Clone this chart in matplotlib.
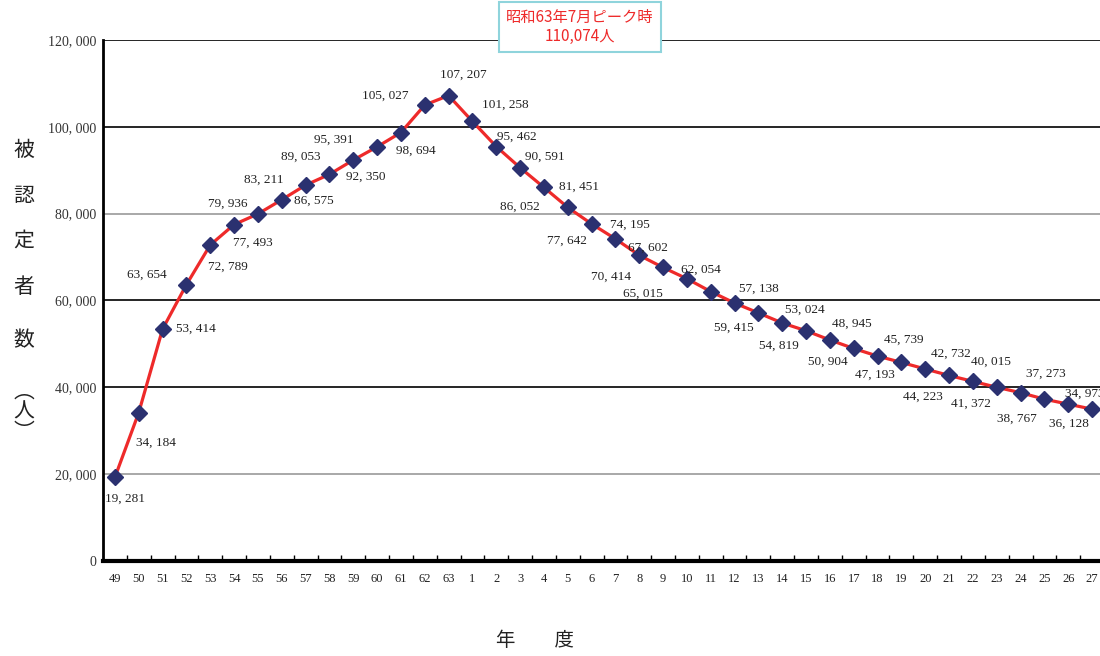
import numpy as np
import matplotlib.pyplot as plt

plt.rcParams['font.family'] = ['Liberation Serif', 'Noto Sans CJK JP', 'DejaVu Sans']

# 年度ラベル (昭和49年度 ～ 平成27年度)
years = [str(y) for y in range(49, 64)] + [str(y) for y in range(1, 28)]
counts = [19281, 34184, 53414, 63654, 72789, 77493, 79936, 83211, 86575, 89053,
          92350, 95391, 98694, 105027, 107207, 101258, 95462, 90591, 86052, 81451,
          77642, 74195, 70414, 67602, 65015, 62054, 59415, 57138, 54819, 53024,
          50904, 48945, 47193, 45739, 44223, 42732, 41372, 40015, 38767, 37273,
          36128, 34973]
peak_text = '昭和63年7月ピーク時\n110,074人'
y_ticks = [0, 20000, 40000, 60000, 80000, 100000, 120000]

# ラベル位置 (点からのずれ, px)
offsets = [(10, -21), (17, -30), (33, 0), (-40, 10), (18, -22), (19, -18),
           (-30, 10), (-18, 20), (8, -16), (-29, 18), (13, -17), (-43, 7),
           (15, -18), (-39, 9), (15, 21), (33, 17), (21, 10), (25, 11),
           (-24, -19), (11, 21), (-25, -17), (14, 14), (-28, -21), (-15, 20),
           (-44, -15), (-10, 22), (-1, -25), (0, 24), (-3, -23), (-1, 21),
           (-2, -22), (-2, 25), (-3, -19), (2, 23), (-2, -28), (2, 22),
           (-2, -22), (-6, 26), (-4, -26), (1, 25), (1, -20), (-7, 15)]

fig = plt.figure(figsize=(11, 6.56), dpi=100)
ax = fig.add_axes([103 / 1100, 95 / 656, 1001 / 1100, 521 / 656])

x = np.arange(len(years))
ax.set_xlim(-0.5, len(years) - 0.5)
ax.set_ylim(0, 120000)

grid_colors = ['black', '#9a9a9a', 'black', 'black', '#9a9a9a', 'black', 'black']
for yv, c in zip(y_ticks[1:], grid_colors[1:]):
    ax.axhline(yv, color=c, lw=1.2, zorder=1)

ax.plot(x, counts, color='#ee2a2a', lw=2.3, zorder=2)
ax.plot(x, counts, ls='none', marker='D', ms=8, color='#2b3170', zorder=3)

for xi, v, (dx, dy) in zip(x, counts, offsets):
    ax.annotate(f'{v:,}'.replace(',', ', '), (xi, v), xytext=(dx, dy),
                textcoords='offset pixels', ha='center', va='center',
                fontsize=9.5, color='#222222', zorder=4, annotation_clip=False)

for s in ['top', 'right']:
    ax.spines[s].set_visible(False)
ax.spines['left'].set_linewidth(2)
ax.spines['bottom'].set_linewidth(3)

ax.set_yticks(y_ticks)
ax.set_yticklabels([f'{v:,}'.replace(',', ', ') for v in y_ticks],
                   fontsize=10, color='#333333')
ax.tick_params(axis='y', length=0, pad=5)

ax.set_xticks(x)
ax.set_xticklabels(years, fontsize=9, color='#222222')
ax.tick_params(axis='x', which='major', length=0, pad=9)
ax.set_xticks(np.arange(0.5, len(years) - 0.5), minor=True)
ax.tick_params(axis='x', which='minor', direction='in', length=4, width=1)

# 縦書きの軸ラベル
ylabel_chars = ['被', '認', '定', '者', '数', '︵', '人', '︶']
ylabel_pos = [150, 196, 241, 287, 340, 392, 412, 432]
for ch, py in zip(ylabel_chars, ylabel_pos):
    fig.text(24 / 1100, 1 - py / 656, ch, family=['Noto Sans CJK JP'],
             fontsize=15, ha='center', va='center', color='#222222')

fig.text(535 / 1100, 1 - 641 / 656, '年　　度', family=['Noto Sans CJK JP'],
         fontsize=14, ha='center', va='center', color='#222222')

fig.text(580 / 1100, 1 - 27 / 656, peak_text, family=['Noto Sans CJK JP'],
         fontsize=11, ha='center', va='center', color='#ee2a2a', linespacing=1.1,
         bbox=dict(boxstyle='square,pad=0.45', fc='white', ec='#8fd4dc', lw=1.5))

fig.savefig('out.png', dpi=100)
